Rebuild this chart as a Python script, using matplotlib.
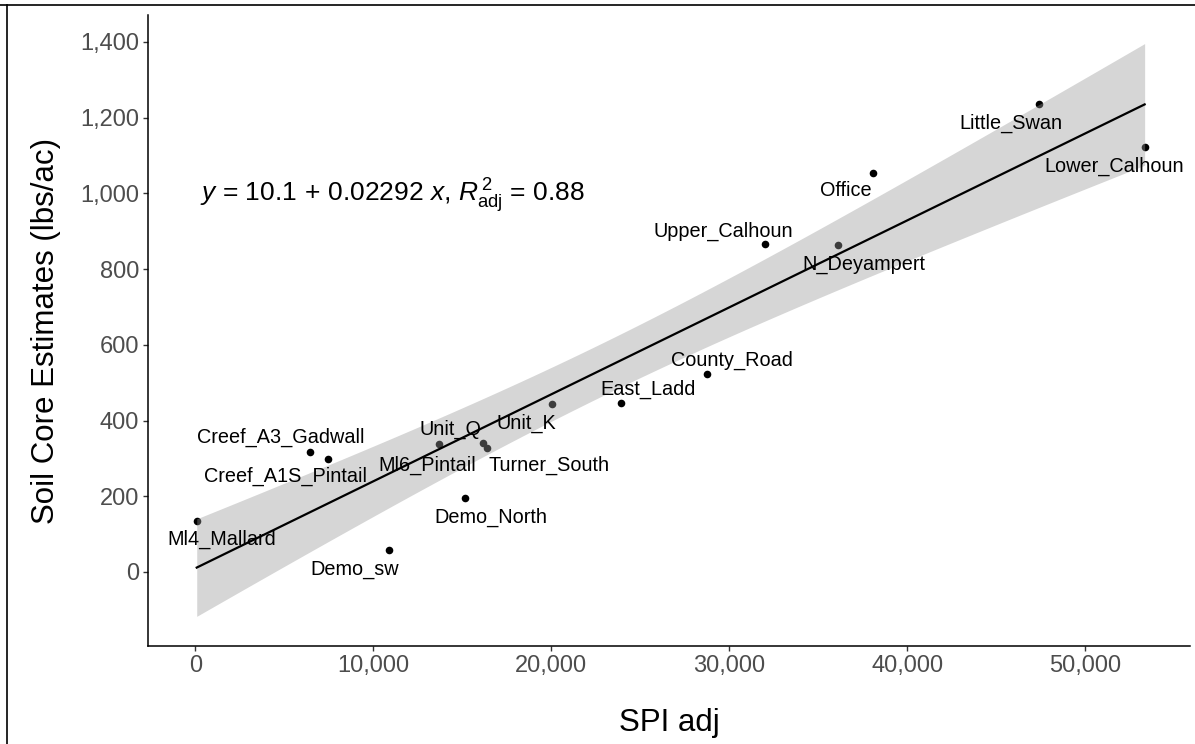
import numpy as np
import matplotlib
matplotlib.use("Agg")
import matplotlib.pyplot as plt
from matplotlib.lines import Line2D
from matplotlib.ticker import FuncFormatter

plt.rcParams['font.family'] = ['Liberation Sans', 'DejaVu Sans']
plt.rcParams['mathtext.fontset'] = 'custom'
plt.rcParams['mathtext.rm'] = 'Liberation Sans'
plt.rcParams['mathtext.it'] = 'Liberation Sans:italic'
plt.rcParams['mathtext.bf'] = 'Liberation Sans:bold'

# ---- data ----
sites = ["Ml4_Mallard", "Creef_A3_Gadwall", "Creef_A1S_Pintail", "Demo_sw",
         "Ml6_Pintail", "Unit_Q", "Turner_South", "Demo_North", "Unit_K",
         "East_Ladd", "County_Road", "Upper_Calhoun", "N_Deyampert", "Office",
         "Little_Swan", "Lower_Calhoun"]
spi_adj = [80, 6450, 7460, 10890, 13700, 16190, 16380, 15130, 20070,
           23930, 28760, 32020, 36120, 38090, 47390, 53350]
soil_core = [135, 317, 299, 58, 337, 340, 327, 195, 443,
             446, 523, 866, 864, 1054, 1235, 1122]
x_ticks = [0, 10000, 20000, 30000, 40000, 50000]
y_ticks = [0, 200, 400, 600, 800, 1000, 1200, 1400]

# label offsets (pixels, relative to point)
label_offsets = [(25, -19), (-29, 15), (-43, -18), (-34, -19),
                 (-12, -21), (-33, 14), (62, -17), (26, -19), (-26, -19),
                 (27, 14), (25, 14), (-42, 13), (26, -20), (-27, -18),
                 (-28, -19), (-30, -19)]

x = np.array(spi_adj, dtype=float)
y = np.array(soil_core, dtype=float)

# linear fit with 95% confidence band
n = len(x)
b1, b0 = np.polyfit(x, y, 1)
resid = y - (b0 + b1 * x)
s = np.sqrt(np.sum(resid ** 2) / (n - 2))
xbar = x.mean()
sxx = np.sum((x - xbar) ** 2)
tval = 2.1448  # t(0.975, df=14)
xs = np.linspace(x.min(), x.max(), 80)
ys = b0 + b1 * xs
se = s * np.sqrt(1.0 / n + (xs - xbar) ** 2 / sxx)
lo = ys - tval * se
hi = ys + tval * se

fig = plt.figure(figsize=(11.95, 7.44), dpi=100)
ax = fig.add_axes([148 / 1195, 98 / 744, 1042 / 1195, 631 / 744])

ax.scatter(x, y, s=30, color='black', zorder=2, linewidths=0)
ax.fill_between(xs, lo, hi, color='#999999', alpha=0.4, linewidth=0, zorder=3)
ax.plot(xs, ys, color='black', lw=1.6, zorder=4)

for name, xi, yi, (dx, dy) in zip(sites, x, y, label_offsets):
    ax.annotate(name, (xi, yi), xytext=(dx, dy), textcoords='offset pixels',
                ha='center', va='center', fontsize=14.3, color='black', zorder=5)

ax.text(0.0499, 0.7036,
        r'$y$ = 10.1$\,+\,$0.02292 $x$, $R^{\,2}_{\mathrm{adj}}$ = 0.88',
        transform=ax.transAxes, ha='left', va='baseline', fontsize=19)

ax.set_xlim(-2658, 55900)
ax.set_ylim(-195.5, 1471)
ax.set_xticks(x_ticks)
ax.set_yticks(y_ticks)
fmt = FuncFormatter(lambda v, p: f"{int(v):,}")
ax.xaxis.set_major_formatter(fmt)
ax.yaxis.set_major_formatter(fmt)

for side in ['top', 'right']:
    ax.spines[side].set_visible(False)
for side in ['left', 'bottom']:
    ax.spines[side].set_linewidth(1.1)
    ax.spines[side].set_color('black')
ax.tick_params(axis='both', length=3.5, width=1.0, color='#333333',
               labelsize=17, labelcolor='#4D4D4D', pad=3)

ax.set_xlabel('SPI adj', fontsize=22.5, labelpad=22)
ax.set_ylabel('Soil Core Estimates (lbs/ac)', fontsize=22.5, labelpad=14)

# figure border (top and left edges)
fig.add_artist(Line2D([0, 1], [1 - 4.5 / 744, 1 - 4.5 / 744], transform=fig.transFigure,
                      color='black', lw=1.2))
fig.add_artist(Line2D([7 / 1195, 7 / 1195], [0, 1 - 4.5 / 744], transform=fig.transFigure,
                      color='black', lw=1.2))

fig.savefig('out.png', dpi=100)
